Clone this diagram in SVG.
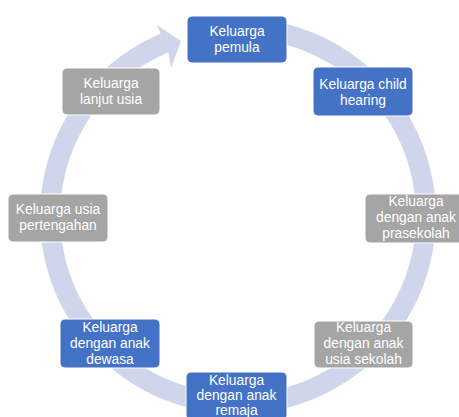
<svg xmlns="http://www.w3.org/2000/svg" width="459" height="417" viewBox="0 0 459 417">
<style>
.blue{fill:#4472c4;stroke:#ffffff;stroke-width:1}
.gray{fill:#a5a5a5;stroke:#ffffff;stroke-width:1}
.t{font-family:"Liberation Sans",Arial,sans-serif;font-size:13.8px;fill:#ffffff;text-anchor:middle}
.ring{fill:#cfd5ea}
</style>
<rect width="459" height="417" fill="#ffffff"/>
<g id="connectors">
<path class="ring" d="M 279.17 22.33 A 198 198 0 1 1 160.6 33.7 L 157 25 L 181 41 L 171 68 L 168.5 52.2 A 178 178 0 1 0 275 41.9 Z"/>
</g>
<g id="n1"><rect class="blue" x="187" y="16" width="100" height="47" rx="5"/><text class="t" x="237" y="36">Keluarga</text><text class="t" x="237" y="52">pemula</text></g>
<g id="n2"><rect class="blue" x="313" y="67" width="100" height="49" rx="5"/><text class="t" x="363" y="89">Keluarga child</text><text class="t" x="363" y="105">hearing</text></g>
<g id="n3"><rect class="gray" x="365" y="194" width="100" height="49" rx="5"/><text class="t" x="416" y="206">Keluarga</text><text class="t" x="416" y="222">dengan anak</text><text class="t" x="416" y="238">prasekolah</text></g>
<g id="n4"><rect class="gray" x="314" y="321" width="99" height="47" rx="5"/><text class="t" x="363.5" y="332">Keluarga</text><text class="t" x="363.5" y="348">dengan anak</text><text class="t" x="363.5" y="364">usia sekolah</text></g>
<g id="n5"><rect class="blue" x="186" y="372" width="101" height="48" rx="5"/><text class="t" x="236.5" y="385">Keluarga</text><text class="t" x="236.5" y="400">dengan anak</text><text class="t" x="236.5" y="415">remaja</text></g>
<g id="n6"><rect class="blue" x="60" y="319" width="100" height="49" rx="5"/><text class="t" x="110" y="332">Keluarga</text><text class="t" x="110" y="348">dengan anak</text><text class="t" x="110" y="364">dewasa</text></g>
<g id="n7"><rect class="gray" x="8" y="194" width="100" height="48" rx="5"/><text class="t" x="58" y="214">Keluarga usia</text><text class="t" x="58" y="230">pertengahan</text></g>
<g id="n8"><rect class="gray" x="62" y="68" width="98" height="47" rx="5"/><text class="t" x="111" y="88">Keluarga</text><text class="t" x="111" y="104">lanjut usia</text></g>
</svg>
